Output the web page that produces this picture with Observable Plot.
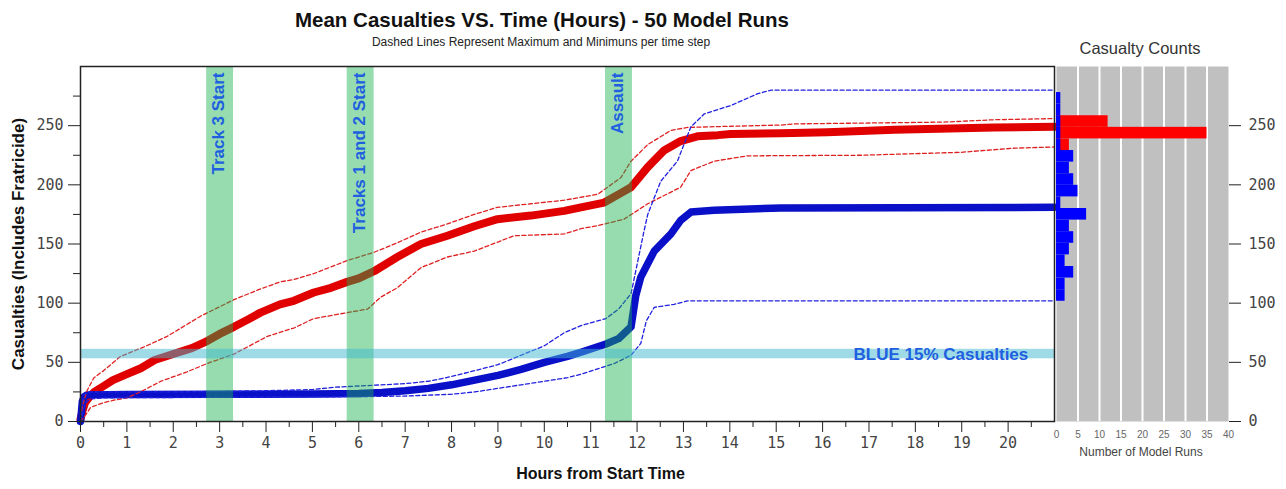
<!DOCTYPE html>
<html><head><meta charset="utf-8">
<script src="https://cdn.jsdelivr.net/npm/d3@7"></script>
<script src="https://cdn.jsdelivr.net/npm/@observablehq/plot@0.6"></script>
<style>
body{margin:0;background:#fff;}
#wrap{position:relative;width:1286px;height:489px;overflow:hidden;font-family:"Liberation Sans",Arial,sans-serif;}
.t{position:absolute;white-space:nowrap;transform:translateX(-50%);line-height:1;}
#main,#hist{position:absolute;top:0;}
#main{left:0;} #hist{left:1040px;}
</style></head>
<body><div id="wrap">
<div class="t" style="left:542px;top:10px;font-size:20.5px;font-weight:bold;color:#111">Mean Casualties VS. Time (Hours) - 50 Model Runs</div>
<div class="t" style="left:541px;top:36px;font-size:12px;color:#222">Dashed Lines Represent Maximum and Minimuns per time step</div>
<div class="t" style="left:1140px;top:40px;font-size:16.5px;color:#333">Casualty Counts</div>
<div class="t" style="left:1141px;top:446px;font-size:12px;color:#444">Number of Model Runs</div>
<div id="main"></div><div id="hist"></div>
</div>
<script>
// ---------- data ----------
const redMeanT = [0,0.05,0.1,0.2,0.3,0.5,0.7,1.0,1.3,1.6,2.0,2.4,2.73,3.0,3.31,3.6,3.88,4.3,4.6,5.03,5.4,5.75,6.0,6.33,6.83,7.34,7.91,8.49,8.99,9.71,10.43,10.79,11.29,11.65,11.87,12.23,12.58,12.94,13.3,13.74,14.02,15.1,16.1,17.55,19.7,21];
const redMeanV = [2,10,16,21,25,30,35,40,45,52,57,62,68,74,80,86,92,99,102,109,113,118,121,127,139,150,157,165,171,174,178,181,185,193,198,215,229,237,241,242,243,243.5,244.5,246.5,248.5,249];

const redMaxT = [0,0.05,0.14,0.29,0.5,0.86,1.37,1.87,2.59,3.31,3.88,4.31,4.6,5.03,5.75,6.33,6.83,7.34,7.91,8.49,8.99,9.71,10.43,11.15,11.65,11.87,12.23,12.73,13.09,14.02,15.1,15.4,18.6,19.7,21];
const redMaxV = [4,14,26,37,43,55,63,72,89,103,112,118,120,125,136,143,151,160,167,175,181,184,187,192,206,220,234,246,248.5,249.5,250.5,251.5,253,255,256];

const redMinT = [0,0.1,0.22,0.5,0.72,1.0,1.29,1.73,2.3,2.73,3.31,3.6,4.03,4.6,5.03,5.75,6.19,6.47,6.83,7.34,7.91,8.49,9.35,10.43,10.79,11.15,11.72,12.23,12.94,13.16,13.66,14.38,16.83,18.99,20.14,21];
const redMinV = [0,5,12,16,18,20,25,34,42,49,57,63,72,79,87,92,95,105,113,130,139,144,157,158.5,163,165.5,171,184,198,212,220,224.5,225,227.5,231,232];

const blueMeanT = [0,0.02,0.04,0.08,0.14,1,3,5,6,6.5,7,7.5,8,8.5,9,9.5,10,10.5,10.79,11.33,11.6,11.87,11.97,12.08,12.37,12.73,12.94,13.16,13.66,15.1,21];
const blueMeanV = [0,8,17,21,22.5,22.8,23,23.3,23.6,24.5,26,28,31,35,39,44,50,55,58.5,65.5,70,80,106,122,144,158.5,170,177,178.5,180.5,181];

const blueMaxT = [0,0.03,0.08,0.2,2,4,5,5.5,6,7,7.5,8,8.5,9,9.5,10,10.43,10.79,11.33,11.6,11.87,12.15,12.23,12.51,12.87,13.16,13.45,14.02,14.6,14.89,21];
const blueMaxV = [0,15,23,25,25,26,27,29,30,32,34,38,43,48,56,64,75,81,87,95,108,161,175,203,220,249,260,267,277,280,280];

const blueMinT = [0,0.05,0.1,0.2,0.5,3,6,7,8,8.5,9,9.5,10,10.5,10.79,11.51,11.87,12.08,12.2,12.37,12.8,13.09,21];
const blueMinV = [0,8,15,19,20,20.5,21,21.5,23,25,28,31,34,37,40,49,56,66,85,96.5,99,102,102];

const eventNames = ["Track 3 Start","Tracks 1 and 2 Start","Assault"];
const eventStart = [2.72,5.75,11.32];
const eventEnd   = [3.30,6.33,11.90];

const thresholdLow = [53];
const thresholdHigh = [61];
const thresholdText = ["BLUE 15% Casualties"];
const thresholdTextT = [18.55];
const thresholdTextV = [57];

const yTicks = [0,50,100,150,200,250];
const yMinor = [25,75,125,175,225,275];
const xTicks = [0,1,2,3,4,5,6,7,8,9,10,11,12,13,14,15,16,17,18,19,20];
const xMinor = [0.5,1.5,2.5,3.5,4.5,5.5,6.5,7.5,8.5,9.5,10.5,11.5,12.5,13.5,14.5,15.5,16.5,17.5,18.5,19.5,20.5];

const blueBinLo = [101.6,111.4,121.2,131,140.8,150.6,160.4,170.2,180,189.8,199.6,209.4,219.2,229,238.8,248.6,258.4,268.2];
const blueBinHi = [111.4,121.2,131,140.8,150.6,160.4,170.2,180,189.8,199.6,209.4,219.2,229,238.8,248.6,258.4,268.2,278];
const blueCounts = [2,2,4,2,3,4,3,7,1,5,4,3,4,1,1,1,1,1];
const redBinLo = [229,238.8,248.6];
const redBinHi = [238.8,248.6,258.4];
const redCounts = [3,35,12];
const histTicks = [0,5,10,15,20,25,30,35,40];
const histGrid = [5,10,15,20,25,30,35];

// ---------- build ----------
const pts = (T,V) => T.map((t,i) => ({t, v: V[i]}));
const events = eventNames.map((n,i) => ({name: n, s: eventStart[i], e: eventEnd[i], m: (eventStart[i]+eventEnd[i])/2}));
const thresh = thresholdLow.map((lo,i) => ({lo, hi: thresholdHigh[i], text: thresholdText[i], t: thresholdTextT[i], v: thresholdTextV[i]}));
const bins = (lo,hi,c) => lo.map((l,i) => ({lo: l, hi: hi[i], c: c[i]}));

const sans = "'Liberation Sans', Arial, sans-serif";
const mono = "'DejaVu Sans Mono', monospace";
const RED = "#e00000", BLUE = "#0a10c8", LBLUE = "#2060e0";
const dash = {x: "t", y: "v", strokeWidth: 1.3, strokeDasharray: "4,2.5"};

const main = Plot.plot({
  width: 1056, height: 489,
  marginTop: 66, marginBottom: 68, marginLeft: 80, marginRight: 2,
  style: {fontFamily: mono, fontSize: "15px", color: "#222", background: "transparent", overflow: "visible"},
  x: {domain: [0, 21]},
  y: {domain: [0, 300]},
  marks: [
    Plot.line(pts(redMeanT, redMeanV), {x: "t", y: "v", stroke: RED, strokeWidth: 8, strokeLinejoin: "round", strokeLinecap: "round"}),
    Plot.line(pts(blueMeanT, blueMeanV), {x: "t", y: "v", stroke: BLUE, strokeWidth: 7.5, strokeLinejoin: "round", strokeLinecap: "round"}),
    Plot.line(pts(redMaxT, redMaxV), {...dash, stroke: "#e02020"}),
    Plot.line(pts(redMinT, redMinV), {...dash, stroke: "#e02020"}),
    Plot.line(pts(blueMaxT, blueMaxV), {...dash, stroke: "#2020e0"}),
    Plot.line(pts(blueMinT, blueMinV), {...dash, stroke: "#2020e0"}),
    Plot.rect(events, {x1: "s", x2: "e", fill: "#16b14d", fillOpacity: 0.45}),
    Plot.rect(thresh, {y1: "lo", y2: "hi", fill: "#40b8d0", fillOpacity: 0.5}),
    Plot.text(events, {x: "m", frameAnchor: "top", dy: 6, dx: -8, text: "name", rotate: -90, textAnchor: "end",
      fill: LBLUE, fontFamily: sans, fontWeight: "bold", fontSize: 17}),
    Plot.text(thresh, {x: "t", y: "v", text: "text", fill: LBLUE, fontFamily: sans, fontWeight: "bold", fontSize: 17}),
    Plot.axisY({ticks: yTicks, tickSize: 12, tickPadding: 5, label: null, fill: "#444"}),
    Plot.axisY({ticks: yMinor, tickSize: 7, text: null, label: null}),
    Plot.axisX({ticks: xTicks, tickSize: 11, tickPadding: 5, label: null, fill: "#444"}),
    Plot.axisX({ticks: xMinor, tickSize: 6, text: null, label: null}),
    Plot.frame({stroke: "#222", strokeWidth: 1.5}),
    Plot.text(["Casualties (Includes Fratricide)"], {frameAnchor: "left", rotate: -90, dx: -62, textAnchor: "middle",
      fontFamily: sans, fontWeight: "bold", fontSize: 17, fill: "#111"}),
    Plot.text(["Hours from Start Time"], {frameAnchor: "bottom", dy: 57, dx: 33,
      fontFamily: sans, fontWeight: "bold", fontSize: 16, fill: "#111"})
  ]
});
document.getElementById("main").appendChild(main);

const hist = Plot.plot({
  width: 246, height: 489,
  marginTop: 66, marginBottom: 68, marginLeft: 16, marginRight: 58,
  style: {fontFamily: mono, fontSize: "15px", color: "#222", background: "transparent", overflow: "visible"},
  x: {domain: [0, 40]},
  y: {domain: [0, 300]},
  marks: [
    Plot.frame({fill: "#c0c0c0", stroke: null}),
    Plot.gridX({ticks: histGrid, stroke: "#ffffff", strokeOpacity: 1, strokeWidth: 2}),
    Plot.rectX(bins(redBinLo, redBinHi, redCounts), {x: "c", y1: "lo", y2: "hi", fill: "#ff0000"}),
    Plot.rectX(bins(blueBinLo, blueBinHi, blueCounts), {x: "c", y1: "lo", y2: "hi", fill: "#0000ff"}),
    Plot.axisX({ticks: histTicks, tickSize: 0, tickPadding: 9, label: null, fontFamily: sans, fontSize: 10, fill: "#666"}),
    Plot.axisY({anchor: "right", ticks: yTicks, tickSize: 12, tickPadding: 8, label: null, fill: "#444"})
  ]
});
document.getElementById("hist").appendChild(hist);
</script>
</body></html>
